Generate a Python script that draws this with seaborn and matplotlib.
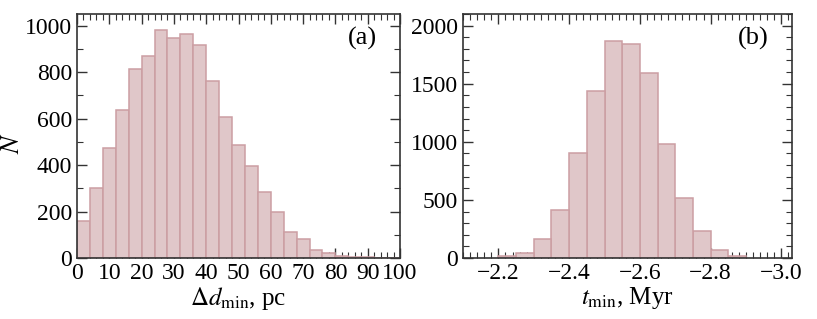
import numpy as np
import pandas as pd
import matplotlib
matplotlib.use("Agg")
import matplotlib.pyplot as plt
from matplotlib.ticker import MultipleLocator
import seaborn as sns

# panel (a): closest approach distance, bins of 4 pc
d_edges = np.arange(0, 101, 4)
d_counts = [160, 300, 475, 635, 815, 870, 980, 945, 965, 915, 760, 605, 485,
            395, 285, 200, 110, 80, 35, 20, 10, 6, 4, 2, 1]

# panel (b): time of closest approach, bins of 0.05 Myr
t_edges = np.round(np.arange(-2.90, -2.19, 0.05), 2)
t_counts = [20, 70, 230, 515, 980, 1590, 1845, 1870, 1440, 900, 415, 160, 40, 20]

sns.set_style("ticks")
plt.rcParams['font.family'] = ['Liberation Serif', 'DejaVu Serif']
plt.rcParams['mathtext.fontset'] = 'stix'
plt.rcParams['text.color'] = 'black'
plt.rcParams['axes.labelcolor'] = 'black'
plt.rcParams['xtick.color'] = 'black'
plt.rcParams['ytick.color'] = 'black'

fill = (0.88, 0.78, 0.79)
edge = (0.80, 0.62, 0.64)

fig = plt.figure(figsize=(8.17, 3.19), dpi=100)
ax1 = fig.add_axes([77 / 817, 61 / 319, 323 / 817, 244 / 319])
ax2 = fig.add_axes([463 / 817, 61 / 319, 329 / 817, 244 / 319])

df_d = pd.DataFrame({'d': (d_edges[:-1] + d_edges[1:]) / 2, 'n': d_counts})
df_t = pd.DataFrame({'t': (t_edges[:-1] + t_edges[1:]) / 2, 'n': t_counts})

sns.histplot(data=df_d, x='d', weights='n', bins=list(d_edges), ax=ax1,
             color=fill, edgecolor=edge, linewidth=1.1, alpha=1)
sns.histplot(data=df_t, x='t', weights='n', bins=list(t_edges), ax=ax2,
             color=fill, edgecolor=edge, linewidth=1.1, alpha=1)

ax1.set_xlim(0, 100)
ax1.set_ylim(0, 1050)
ax1.xaxis.set_major_locator(MultipleLocator(10))
ax1.xaxis.set_minor_locator(MultipleLocator(2))
ax1.yaxis.set_major_locator(MultipleLocator(200))
ax1.yaxis.set_minor_locator(MultipleLocator(100))
ax1.set_xlabel(r'$\Delta d_{\rm min}$, pc', fontsize=18, labelpad=1)
ax1.set_ylabel(r'$N$', fontsize=19)
ax1.yaxis.set_label_coords(-0.165, 0.47)
ax1.text(0.93, 0.9, '(a)', transform=ax1.transAxes, ha='right', va='center',
         fontsize=19)

ax2.set_xlim(-2.1, -3.03)
ax2.set_ylim(0, 2100)
ax2.xaxis.set_major_locator(MultipleLocator(0.2))
ax2.xaxis.set_minor_locator(MultipleLocator(0.02))
ax2.yaxis.set_major_locator(MultipleLocator(500))
ax2.yaxis.set_minor_locator(MultipleLocator(100))
ax2.set_xticks([-2.2, -2.4, -2.6, -2.8, -3.0])
ax2.set_xticklabels(['\u22122.2', '\u22122.4', '\u22122.6', '\u22122.8', '\u22123.0'])
ax2.set_xlabel(r'$t_{\rm min}$, Myr', fontsize=18, labelpad=1)
ax2.set_ylabel('')
ax2.text(0.93, 0.9, '(b)', transform=ax2.transAxes, ha='right', va='center',
         fontsize=19)

for ax in (ax1, ax2):
    ax.tick_params(which='both', direction='in', top=True, right=True,
                   labelsize=17, color='#333333')
    ax.tick_params(which='major', length=7, width=1)
    ax.tick_params(which='minor', length=4, width=0.8)
    for s in ax.spines.values():
        s.set_linewidth(1.2)
        s.set_color('#333333')

fig.savefig("out.png", dpi=100)
